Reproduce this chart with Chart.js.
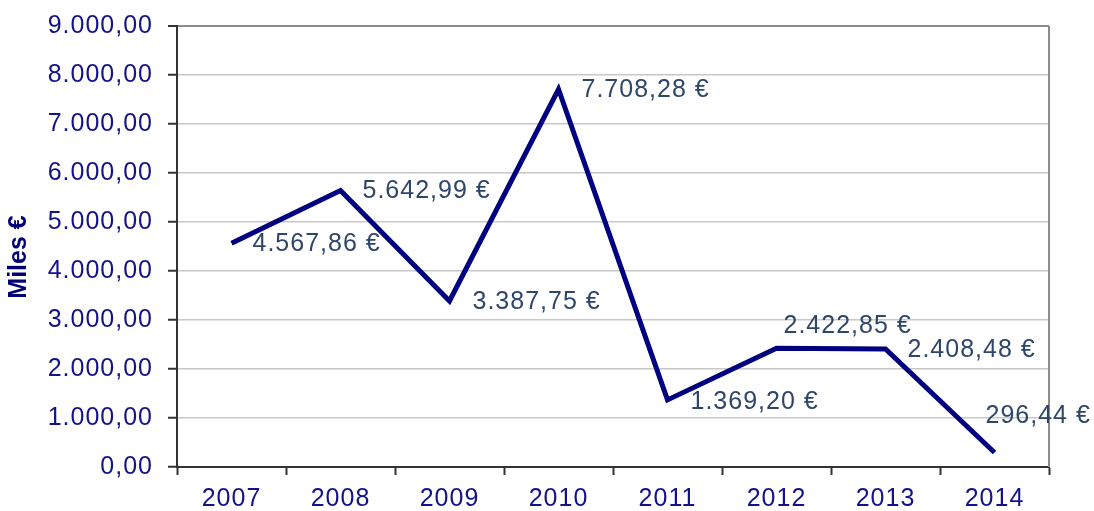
<!DOCTYPE html>
<html>
<head>
<meta charset="utf-8">
<script src="https://cdn.jsdelivr.net/npm/chart.js@4/dist/chart.umd.min.js"></script>
<style>
  html, body { margin: 0; padding: 0; background: #ffffff; }
  #wrap { width: 1094px; height: 511px; position: relative; }
</style>
</head>
<body>
<div id="wrap"><canvas id="c" width="1094" height="511"></canvas></div>
<script>
// ---- data ----
const years = ['2007', '2008', '2009', '2010', '2011', '2012', '2013', '2014'];
const values = [4567.86, 5642.99, 3387.75, 7708.28, 1369.20, 2422.85, 2408.48, 296.44];
const yMin = 0;
const yMax = 9000;
const yStep = 1000;
const yTitle = 'Miles €';
const currency = '€';

// ---- label placement (style, not data): offset from point in px ----
const labelShift = [[21, 1], [22, 1], [23, 1], [23, 1], [23, 2], [7, -22], [22, 1], [-9, -36]];

function fmt(v) {
  const neg = v < 0;
  const s = Math.abs(v).toFixed(2).split('.');
  const intPart = s[0].replace(/\B(?=(\d{3})+(?!\d))/g, '.');
  return (neg ? '-' : '') + intPart + ',' + s[1];
}

const FONT = '"Liberation Sans", Arial, sans-serif';

const spacingPlugin = {
  id: 'spacing',
  beforeLayout(chart) { try { chart.ctx.letterSpacing = '1px'; } catch (e) {} },
  beforeDraw(chart) { try { chart.ctx.letterSpacing = '1px'; } catch (e) {} }
};

const labelPlugin = {
  id: 'valueLabels',
  afterDatasetsDraw(chart) {
    const ctx = chart.ctx;
    const meta = chart.getDatasetMeta(0);
    ctx.save();
    ctx.font = '25px ' + FONT;
    ctx.fillStyle = '#2E4669';
    ctx.textAlign = 'left';
    ctx.textBaseline = 'middle';
    meta.data.forEach((pt, i) => {
      const sh = labelShift[i];
      ctx.fillText(fmt(values[i]) + ' ' + currency, pt.x + sh[0], pt.y + sh[1]);
    });
    ctx.restore();
  }
};

const framePlugin = {
  id: 'frame',
  beforeDatasetsDraw(chart) {
    const { ctx, chartArea: a } = chart;
    ctx.save();
    ctx.strokeStyle = '#8C8C8C';
    ctx.lineWidth = 2;
    ctx.beginPath();
    ctx.moveTo(a.right, a.top);
    ctx.lineTo(a.right, a.bottom);
    ctx.stroke();
    ctx.restore();
  },
  afterDraw(chart) {
    const { ctx } = chart;
    ctx.save();
    ctx.letterSpacing = '0px';
    ctx.font = 'bold 25px ' + FONT;
    ctx.fillStyle = '#00007A';
    ctx.textAlign = 'center';
    ctx.textBaseline = 'middle';
    ctx.translate(19, 257);
    ctx.rotate(-Math.PI / 2);
    ctx.fillText(yTitle, 0, 0);
    ctx.restore();
  }
};

new Chart(document.getElementById('c'), {
  type: 'line',
  data: {
    labels: years,
    datasets: [{
      data: values,
      borderColor: '#000080',
      borderWidth: 5,
      pointRadius: 0,
      pointHoverRadius: 0,
      tension: 0,
      fill: false
    }]
  },
  options: {
    responsive: false,
    animation: false,
    devicePixelRatio: 1,
    layout: { padding: { left: 0, right: 45, top: 26, bottom: 0 } },
    plugins: {
      legend: { display: false },
      tooltip: { enabled: false },
      title: { display: false }
    },
    scales: {
      x: {
        type: 'category',
        offset: true,
        afterFit(scale) { scale.height = 44; scale.paddingLeft = 0; scale.paddingRight = 0; },
        grid: {
          display: true,
          offset: true,
          drawOnChartArea: false,
          drawTicks: true,
          tickLength: 8,
          tickColor: '#333333',
          tickWidth: 2,
          color: '#333333'
        },
        border: { display: true, color: '#333333', width: 2 },
        ticks: {
          color: '#12128A',
          font: { family: FONT, size: 25 },
          padding: 9,
          maxRotation: 0,
          autoSkip: false
        }
      },
      y: {
        min: yMin,
        max: yMax,
        afterFit(scale) { scale.width = 177; scale.paddingTop = 0; scale.paddingBottom = 0; },
        grid: {
          color: (c) => (c.tick && c.tick.value === yMax ? '#8C8C8C' : '#C8C8C8'),
          lineWidth: (c) => (c.tick && c.tick.value === yMax ? 2 : 1.5),
          drawTicks: true,
          tickLength: 9,
          tickColor: '#333333',
          tickWidth: 2
        },
        border: { display: true, color: '#333333', width: 2 },
        ticks: {
          stepSize: yStep,
          color: '#12128A',
          font: { family: FONT, size: 25 },
          padding: 15,
          callback: (v) => fmt(v)
        }
      }
    }
  },
  plugins: [spacingPlugin, framePlugin, labelPlugin]
});
</script>
</body>
</html>
